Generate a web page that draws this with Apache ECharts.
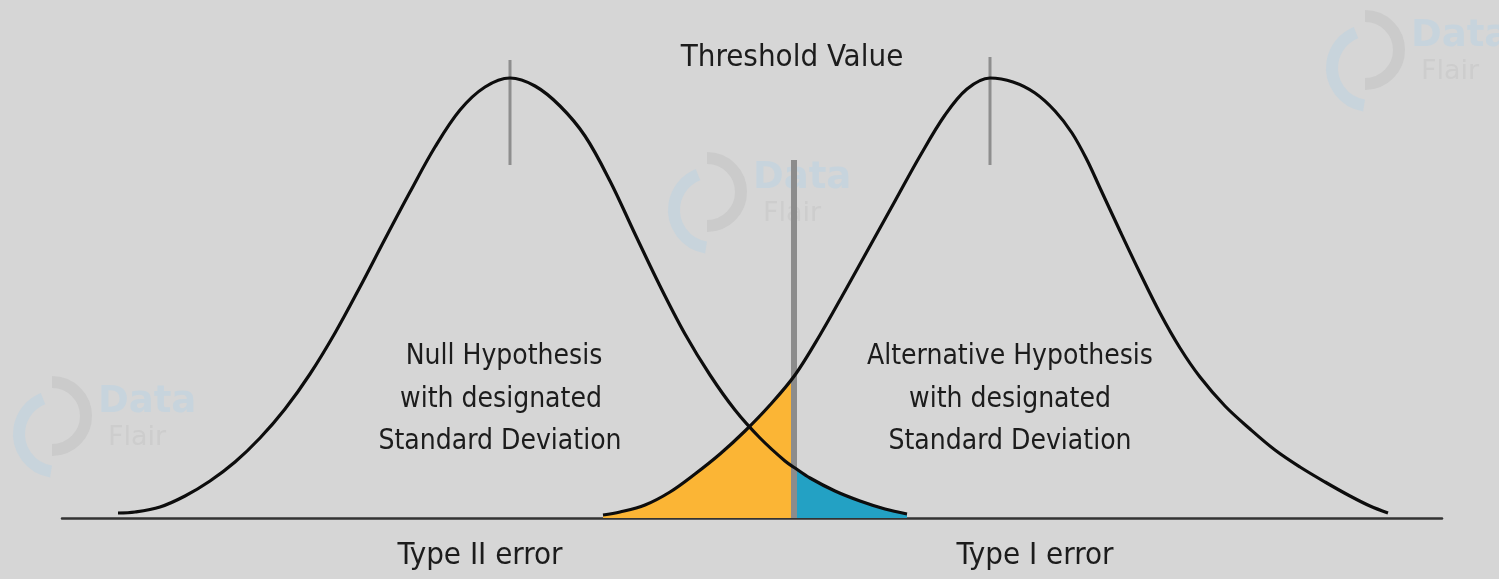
<!DOCTYPE html>
<html>
<head>
<meta charset="utf-8">
<title>Type I and Type II error</title>
<script src="https://cdn.jsdelivr.net/npm/echarts@6/dist/echarts.min.js"></script>
<style>
  html, body { margin: 0; padding: 0; background: #d6d6d6; }
  #chart { width: 1499px; height: 579px; }
</style>
</head>
<body>
<div id="chart"></div>
<script>
// curves: [x, height above baseline]
const nullCurve = [
  [118, 5], [135, 6], [160, 11], [185, 22], [210, 37], [235, 56], [260, 80],
  [285, 109], [310, 144], [335, 185], [360, 231], [385, 279], [410, 326],
  [435, 371], [460, 408], [485, 431], [510, 440], [535, 432], [560, 412],
  [585, 382], [610, 337], [635, 284], [660, 232], [685, 184], [710, 143],
  [735, 108], [760, 80], [785, 57], [795, 50], [810, 40], [835, 27],
  [860, 17], [885, 9], [907, 4]
]
const altCurve = [
  [603, 3], [620, 6], [645, 13], [670, 26], [695, 44], [720, 64], [745, 87],
  [770, 113], [795, 143], [820, 183], [845, 227], [870, 272], [895, 317],
  [920, 362], [945, 403], [967, 429], [990, 440], [1013, 436], [1035, 425],
  [1055, 407], [1072, 385], [1087, 358], [1100, 330], [1120, 287],
  [1140, 245], [1160, 205], [1180, 170], [1200, 141], [1225, 112],
  [1250, 89], [1275, 68], [1300, 51], [1325, 36], [1350, 22], [1370, 12],
  [1388, 5]
]
const threshold = 794
const thresholdTop = 358
const peakTicks = [[510, 353, 458], [990, 353, 461]]

// shaded parts either side of the threshold
const typeTwoArea = altCurve.filter(p => p[0] <= 795)
const typeOneArea = nullCurve.filter(p => p[0] >= 795)

const FONT = '"Liberation Sans Narrow", "DejaVu Sans Condensed", "Open Sans", sans-serif'
const txtColor = '#1c1c1c'

const chart = echarts.init(document.getElementById('chart'))

// faint DataFlair watermarks
function watermark(x, y) {
  return [
    { type: 'arc', z: 0, silent: true,
      shape: { cx: x + 45, cy: y + 58, r: 38, startAngle: Math.PI * 0.55, endAngle: Math.PI * 1.38 },
      style: { stroke: '#c8d4dc', lineWidth: 12, fill: null } },
    { type: 'arc', z: 0, silent: true,
      shape: { cx: x + 40, cy: y + 40, r: 34, startAngle: -Math.PI * 0.5, endAngle: Math.PI * 0.5 },
      style: { stroke: '#cbcbcb', lineWidth: 12, fill: null } },
    { type: 'text', z: 0, silent: true, left: x + 86, top: y + 8,
      style: { text: 'Data', fill: '#c7d4dd', font: 'bold 37px "DejaVu Sans"' } },
    { type: 'text', z: 0, silent: true, left: x + 96, top: y + 48,
      style: { text: 'Flair', fill: '#cdcdcd', font: '27px "DejaVu Sans"' } }
  ]
}

function label(text, cx, cy, size) {
  return {
    type: 'text', z: 10, silent: true, x: cx, y: cy,
    style: { text: text, fill: txtColor, font: size + 'px ' + FONT, align: 'center', verticalAlign: 'middle' }
  }
}

chart.setOption({
  backgroundColor: '#d6d6d6',
  animation: false,
  grid: { left: 62, right: 57, top: 0, bottom: 61 },
  xAxis: {
    type: 'value', min: 62, max: 1442,
    axisLine: { show: true, lineStyle: { color: '#333333', width: 2.5 } },
    axisTick: { show: false }, axisLabel: { show: false }, splitLine: { show: false }
  },
  yAxis: {
    type: 'value', min: 0, max: 518,
    axisLine: { show: false }, axisTick: { show: false }, axisLabel: { show: false }, splitLine: { show: false }
  },
  graphic: [
    ...watermark(1325, 10),
    ...watermark(667, 152),
    ...watermark(12, 376),
    label('Threshold Value', 792, 58, 31),
    label('Null Hypothesis', 504, 357, 28),
    label('with designated', 501, 400, 28),
    label('Standard Deviation', 500, 442, 28),
    label('Alternative Hypothesis', 1010, 357, 28),
    label('with designated', 1010, 400, 28),
    label('Standard Deviation', 1010, 442, 28),
    label('Type II error', 480, 556, 31),
    label('Type I error', 1035, 556, 31)
  ],
  series: [
    {
      type: 'line', data: typeTwoArea, smooth: 0.35, showSymbol: false, z: 2,
      lineStyle: { width: 0 }, areaStyle: { color: '#fbb535', opacity: 1 }
    },
    {
      type: 'line', data: typeOneArea, smooth: 0.35, showSymbol: false, z: 2,
      lineStyle: { width: 0 }, areaStyle: { color: '#23a1c4', opacity: 1 }
    },
    {
      type: 'line', data: [[threshold, 0], [threshold, thresholdTop]], showSymbol: false, z: 3,
      lineStyle: { color: '#8c8c8c', width: 6 }
    },
    ...peakTicks.map(t => ({
      type: 'line', data: [[t[0], t[1]], [t[0], t[2]]], showSymbol: false, z: 3,
      lineStyle: { color: '#8e8e8e', width: 3 }
    })),
    {
      type: 'line', data: nullCurve, smooth: 0.35, showSymbol: false, z: 4,
      lineStyle: { color: '#0d0d0d', width: 3.2 }
    },
    {
      type: 'line', data: altCurve, smooth: 0.35, showSymbol: false, z: 4,
      lineStyle: { color: '#0d0d0d', width: 3.2 }
    }
  ]
})
</script>
</body>
</html>
